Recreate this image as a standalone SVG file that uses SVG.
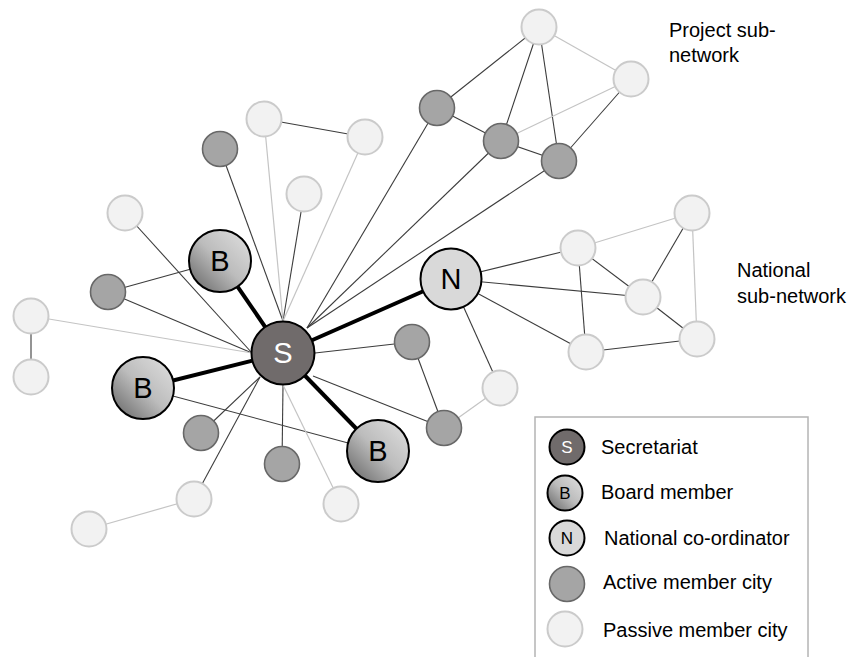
<svg xmlns="http://www.w3.org/2000/svg" width="849" height="657" viewBox="0 0 849 657">
<style>
.d{stroke:#3c3c3c;stroke-width:1.1;fill:none}
.l{stroke:#c4c4c4;stroke-width:1.2;fill:none}
.t{stroke:#000;stroke-width:4;fill:none}
.p{fill:#f2f2f2;stroke:#cbcbcb;stroke-width:2}
.a{fill:#a5a5a5;stroke:#686868;stroke-width:1.6}
.b{fill:url(#gb);stroke:#000;stroke-width:2}
.s{fill:#706b6b;stroke:#000;stroke-width:2}
.n{fill:#d9d9d9;stroke:#000;stroke-width:2}
.lab{font-family:"Liberation Sans",Arial,sans-serif;text-anchor:middle}
.txt{font-family:"Liberation Sans",Arial,sans-serif;font-size:20px;fill:#000}
</style>
<defs>
<linearGradient id="gb" x1="0.85" y1="0.15" x2="0.15" y2="0.85">
<stop offset="0" stop-color="#d6d6d6"/>
<stop offset="0.5" stop-color="#bcbcbc"/>
<stop offset="1" stop-color="#7c7c7c"/>
</linearGradient>
</defs>
<g id="connectors">
<line class="d" x1="264" y1="119" x2="365" y2="137"/>
<line class="d" x1="220" y1="149" x2="283" y2="321"/>
<line class="d" x1="304" y1="194" x2="283" y2="321"/>
<line class="l" x1="264" y1="119" x2="283" y2="321"/>
<line class="l" x1="365" y1="137" x2="283" y2="321"/>
<line class="d" x1="125" y1="213" x2="252" y2="353"/>
<line class="d" x1="108" y1="292" x2="220" y2="261"/>
<line class="d" x1="108" y1="292" x2="252" y2="353"/>
<line class="l" x1="31" y1="316" x2="252" y2="353"/>
<line class="d" x1="31" y1="316" x2="31" y2="377"/>
<line class="d" x1="437" y1="108" x2="307" y2="328"/>
<line class="d" x1="501" y1="141" x2="307" y2="328"/>
<line class="d" x1="559" y1="161" x2="307" y2="328"/>
<line class="d" x1="437" y1="108" x2="539" y2="27"/>
<line class="d" x1="437" y1="108" x2="501" y2="141"/>
<line class="d" x1="501" y1="141" x2="539" y2="27"/>
<line class="d" x1="539" y1="27" x2="559" y2="161"/>
<line class="d" x1="501" y1="141" x2="559" y2="161"/>
<line class="d" x1="559" y1="161" x2="631" y2="79"/>
<line class="l" x1="539" y1="27" x2="631" y2="79"/>
<line class="l" x1="501" y1="141" x2="631" y2="79"/>
<line class="d" x1="451" y1="279" x2="578" y2="248"/>
<line class="d" x1="451" y1="279" x2="643" y2="297"/>
<line class="d" x1="451" y1="279" x2="586" y2="352"/>
<line class="d" x1="451" y1="279" x2="500" y2="388"/>
<line class="d" x1="578" y1="248" x2="643" y2="297"/>
<line class="d" x1="578" y1="248" x2="586" y2="352"/>
<line class="d" x1="692" y1="213" x2="643" y2="297"/>
<line class="d" x1="643" y1="297" x2="697" y2="339"/>
<line class="d" x1="586" y1="352" x2="697" y2="339"/>
<line class="l" x1="578" y1="248" x2="692" y2="213"/>
<line class="l" x1="692" y1="213" x2="697" y2="339"/>
<line class="d" x1="315" y1="353" x2="412" y2="342"/>
<line class="d" x1="412" y1="342" x2="444" y2="428"/>
<line class="d" x1="313" y1="376" x2="444" y2="428"/>
<line class="l" x1="444" y1="428" x2="500" y2="388"/>
<line class="d" x1="143" y1="388" x2="378" y2="451"/>
<line class="d" x1="260" y1="377" x2="201" y2="433"/>
<line class="d" x1="260" y1="377" x2="194" y2="499"/>
<line class="d" x1="283" y1="385" x2="282" y2="464"/>
<line class="l" x1="283" y1="385" x2="341" y2="504"/>
<line class="l" x1="194" y1="499" x2="89" y2="529"/>
<line class="t" x1="283" y1="353" x2="220" y2="261"/>
<line class="t" x1="283" y1="353" x2="451" y2="279"/>
<line class="t" x1="283" y1="353" x2="143" y2="388"/>
<line class="t" x1="283" y1="353" x2="378" y2="451"/>
</g>
<g id="p1"><circle class="p" cx="264" cy="119" r="17.5"/></g>
<g id="p2"><circle class="p" cx="365" cy="137" r="17.5"/></g>
<g id="p3"><circle class="p" cx="304" cy="194" r="17.5"/></g>
<g id="p4"><circle class="p" cx="125" cy="213" r="17.5"/></g>
<g id="p5"><circle class="p" cx="31" cy="316" r="17.5"/></g>
<g id="p6"><circle class="p" cx="31" cy="377" r="17.5"/></g>
<g id="p7"><circle class="p" cx="194" cy="499" r="17.5"/></g>
<g id="p8"><circle class="p" cx="89" cy="529" r="17.5"/></g>
<g id="p9"><circle class="p" cx="341" cy="504" r="17.5"/></g>
<g id="p10"><circle class="p" cx="500" cy="388" r="17.5"/></g>
<g id="p11"><circle class="p" cx="539" cy="27" r="17.5"/></g>
<g id="p12"><circle class="p" cx="631" cy="79" r="17.5"/></g>
<g id="p13"><circle class="p" cx="578" cy="248" r="17.5"/></g>
<g id="p14"><circle class="p" cx="692" cy="213" r="17.5"/></g>
<g id="p15"><circle class="p" cx="643" cy="297" r="17.5"/></g>
<g id="p16"><circle class="p" cx="586" cy="352" r="17.5"/></g>
<g id="p17"><circle class="p" cx="697" cy="339" r="17.5"/></g>
<g id="a1"><circle class="a" cx="220" cy="149" r="17.5"/></g>
<g id="a2"><circle class="a" cx="108" cy="292" r="17.5"/></g>
<g id="a3"><circle class="a" cx="201" cy="433" r="17.5"/></g>
<g id="a4"><circle class="a" cx="282" cy="464" r="17.5"/></g>
<g id="a5"><circle class="a" cx="412" cy="342" r="17.5"/></g>
<g id="a6"><circle class="a" cx="444" cy="428" r="17.5"/></g>
<g id="a7"><circle class="a" cx="437" cy="108" r="17.5"/></g>
<g id="a8"><circle class="a" cx="501" cy="141" r="17.5"/></g>
<g id="a9"><circle class="a" cx="559" cy="161" r="17.5"/></g>
<g id="b1"><circle class="b" cx="220" cy="261" r="31"/><text class="lab" x="220" y="271" font-size="29">B</text></g>
<g id="b2"><circle class="b" cx="143" cy="388" r="31"/><text class="lab" x="143" y="398" font-size="29">B</text></g>
<g id="b3"><circle class="b" cx="378" cy="451" r="31"/><text class="lab" x="378" y="461" font-size="29">B</text></g>
<g id="s"><circle class="s" cx="283" cy="353" r="31.5"/><text class="lab" x="283" y="363" font-size="29" fill="#fff">S</text></g>
<g id="n"><circle class="n" cx="451" cy="279" r="30.5"/><text class="lab" x="451" y="289" font-size="29">N</text></g>
<g id="label-project"><text class="txt" x="669" y="37">Project sub-</text><text class="txt" x="669" y="62">network</text></g>
<g id="label-national"><text class="txt" x="737" y="277">National</text><text class="txt" x="737" y="303">sub-network</text></g>
<g id="legend">
<rect x="535" y="417" width="273" height="260" fill="#fff" stroke="#b4b4b4" stroke-width="1.5"/>
<circle class="s" cx="567" cy="447" r="17.5"/><text class="lab" x="567" y="453" font-size="17" fill="#fff">S</text>
<circle class="b" cx="565" cy="493" r="17.5"/><text class="lab" x="565" y="499" font-size="17">B</text>
<circle class="n" cx="567" cy="538" r="17.5"/><text class="lab" x="567" y="544" font-size="17">N</text>
<circle class="a" cx="567" cy="584" r="17.5"/>
<circle class="p" cx="565" cy="629" r="17.5"/>
<text class="txt" x="601" y="454">Secretariat</text>
<text class="txt" x="601" y="499">Board member</text>
<text class="txt" x="604" y="545">National co-ordinator</text>
<text class="txt" x="603" y="589">Active member city</text>
<text class="txt" x="603" y="637">Passive member city</text>
</g>
</svg>
